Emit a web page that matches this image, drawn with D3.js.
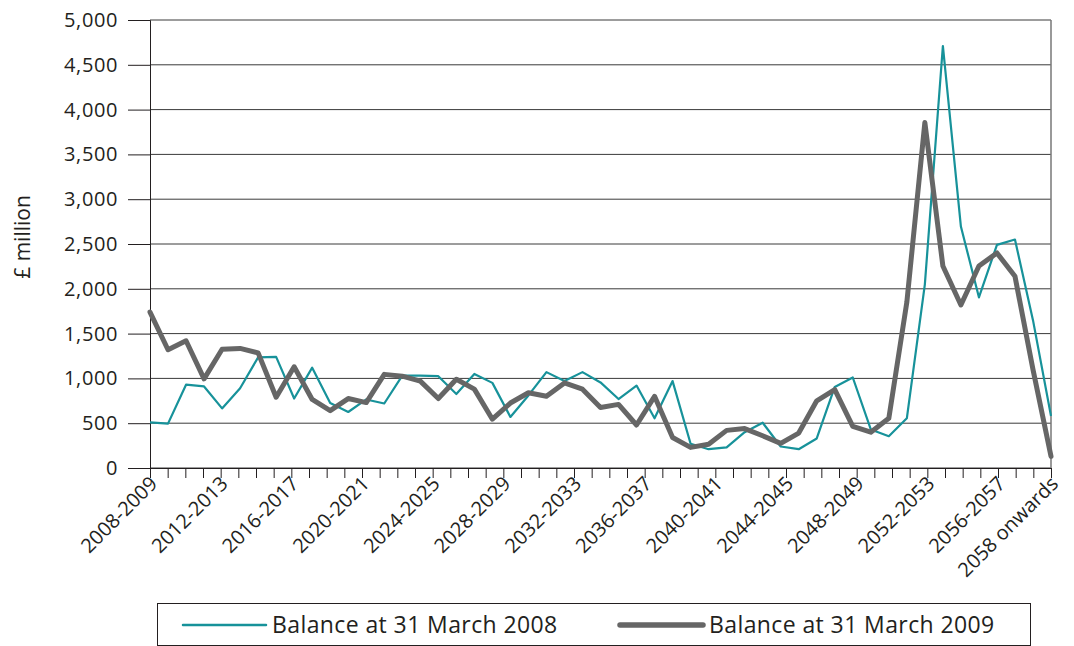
<!DOCTYPE html>
<html>
<head>
<meta charset="utf-8">
<script src="https://cdn.jsdelivr.net/npm/d3@7"></script>
<style>
  body { margin: 0; background: #fff; }
  text { font-family: "Open Sans", "Noto Sans", sans-serif; fill: #231f20; }
</style>
</head>
<body>
<div id="chart"></div>
<script>
// categories (one point per year)
var periods = ["2008-2009","2009-2010","2010-2011","2011-2012","2012-2013","2013-2014","2014-2015","2015-2016",
  "2016-2017","2017-2018","2018-2019","2019-2020","2020-2021","2021-2022","2022-2023","2023-2024",
  "2024-2025","2025-2026","2026-2027","2027-2028","2028-2029","2029-2030","2030-2031","2031-2032",
  "2032-2033","2033-2034","2034-2035","2035-2036","2036-2037","2037-2038","2038-2039","2039-2040",
  "2040-2041","2041-2042","2042-2043","2043-2044","2044-2045","2045-2046","2046-2047","2047-2048",
  "2048-2049","2049-2050","2050-2051","2051-2052","2052-2053","2053-2054","2054-2055","2055-2056",
  "2056-2057","2057-2058","2058 onwards"];

// £ million
var balance2008 = [510,495,930,910,665,890,1235,1240,775,1120,725,625,765,720,1030,1030,
  1025,825,1050,950,570,810,1070,970,1070,955,770,920,555,970,270,210,
  230,400,505,240,210,330,905,1010,430,355,555,2050,4710,2695,1905,2490,
  2550,1650,580];
var balance2009 = [1740,1320,1420,995,1325,1335,1285,790,1130,765,640,775,730,1045,1025,970,
  775,990,880,545,725,840,800,950,880,675,710,480,800,340,230,265,
  420,440,360,275,390,750,875,465,400,555,1850,3855,2255,1820,2255,2400,
  2140,1100,130];

// category axis labels, one per tick mark
var axisLabels = ["2008-2009","","","","2012-2013","","","","2016-2017","","","","2020-2021","","","",
  "2024-2025","","","","2028-2029","","","","2032-2033","","","","2036-2037","","","",
  "2040-2041","","","","2044-2045","","","","2048-2049","","","","2052-2053","","","",
  "2056-2057","","","2058 onwards"];

var yTicks = [0,500,1000,1500,2000,2500,3000,3500,4000,4500,5000];

var seriesNames = ["Balance at 31 March 2008", "Balance at 31 March 2009"];
var colors = ["#17929a", "#666666"];

var width = 1074, height = 646;
var plotLeft = 150, plotRight = 1051, plotTop = 20, plotBottom = 468;

var svg = d3.select("#chart").append("svg")
    .attr("width", width)
    .attr("height", height);

var x = d3.scalePoint().domain(periods).range([plotLeft, plotRight]);
var xt = d3.scalePoint().domain(d3.range(axisLabels.length)).range([plotLeft, plotRight]);
var y = d3.scaleLinear().domain([0, 5000]).range([plotBottom, plotTop]);

// gridlines
svg.append("g")
    .selectAll("line")
    .data(yTicks)
    .enter().append("line")
    .attr("x1", plotLeft)
    .attr("x2", plotRight)
    .attr("y1", function (d) { return y(d); })
    .attr("y2", function (d) { return y(d); })
    .attr("stroke", "#3a3a3a")
    .attr("stroke-width", 1);

// right border of plot area
svg.append("line")
    .attr("x1", plotRight).attr("x2", plotRight)
    .attr("y1", plotTop).attr("y2", plotBottom)
    .attr("stroke", "#777")
    .attr("stroke-width", 1.5);

// y axis
var yAxis = svg.append("g")
    .attr("transform", "translate(" + plotLeft + ",0)")
    .call(d3.axisLeft(y).tickValues(yTicks).tickSize(22).tickPadding(10)
        .tickFormat(d3.format(",")));
yAxis.selectAll("text").style("font-size", "20px").style("letter-spacing", "0.6px");
yAxis.selectAll("line, path").attr("stroke", "#231f20");

// x axis
var xAxis = svg.append("g")
    .attr("transform", "translate(0," + plotBottom + ")")
    .call(d3.axisBottom(xt).tickSize(10).tickSizeOuter(0)
        .tickFormat(function (i) { return axisLabels[i]; }));
xAxis.selectAll("line, path").attr("stroke", "#231f20");
xAxis.selectAll("text")
    .style("font-size", "20px")
    .attr("text-anchor", "end")
    .attr("dy", 0)
    .attr("y", 0)
    .attr("transform", "translate(8,17) rotate(-45)");

// axis title
svg.append("text")
    .attr("transform", "translate(30,237) rotate(-90)")
    .attr("text-anchor", "middle")
    .style("font-size", "21px")
    .text("£ million");

// lines
var line = d3.line()
    .x(function (d, i) { return x(periods[i]); })
    .y(function (d) { return y(d); });

svg.append("path")
    .datum(balance2008)
    .attr("d", line)
    .attr("fill", "none")
    .attr("stroke", colors[0])
    .attr("stroke-width", 2.2)
    .attr("stroke-linejoin", "round");

svg.append("path")
    .datum(balance2009)
    .attr("d", line)
    .attr("fill", "none")
    .attr("stroke", colors[1])
    .attr("stroke-width", 5)
    .attr("stroke-linejoin", "round")
    .attr("stroke-linecap", "round");

// legend
var legend = svg.append("g");
legend.append("rect")
    .attr("x", 157.5).attr("y", 603.5)
    .attr("width", 873).attr("height", 42)
    .attr("fill", "none")
    .attr("stroke", "#231f20");

var legendX = [183, 620];
var legendW = [2.5, 5.5];
seriesNames.forEach(function (name, i) {
    legend.append("line")
        .attr("x1", legendX[i]).attr("x2", legendX[i] + 83)
        .attr("y1", 625).attr("y2", 625)
        .attr("stroke", colors[i])
        .attr("stroke-width", legendW[i])
        .attr("stroke-linecap", "round");
    legend.append("text")
        .attr("x", legendX[i] + 89)
        .attr("y", 633)
        .style("font-size", "23px")
        .style("letter-spacing", "0.4px")
        .text(name);
});
</script>
</body>
</html>
